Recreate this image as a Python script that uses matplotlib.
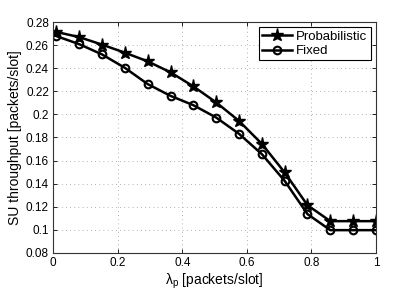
import numpy as np
import matplotlib
matplotlib.use("Agg")
import matplotlib.pyplot as plt

# --- Data ---
lam_p = np.linspace(0.01, 1.0, 15)
prob = [0.2715, 0.2670, 0.2605, 0.2535, 0.2460, 0.2365, 0.2243, 0.2104,
        0.1944, 0.1745, 0.1497, 0.1213, 0.1075, 0.1075, 0.1075]
fixed = [0.2679, 0.2609, 0.2520, 0.2404, 0.2263, 0.2161, 0.2080, 0.1973,
         0.1832, 0.1656, 0.1424, 0.1136, 0.0997, 0.0997, 0.0997]

xticks = [0, 0.2, 0.4, 0.6, 0.8, 1]
xtick_labels = ["0", "0.2", "0.4", "0.6", "0.8", "1"]
yticks = [0.08, 0.1, 0.12, 0.14, 0.16, 0.18, 0.2, 0.22, 0.24, 0.26, 0.28]
ytick_labels = ["0.08", "0.1", "0.12", "0.14", "0.16", "0.18", "0.2",
                "0.22", "0.24", "0.26", "0.28"]

plt.rcParams["font.family"] = ["Liberation Sans", "DejaVu Sans"]

fig = plt.figure(figsize=(4.15, 2.91), dpi=100)
ax = fig.add_axes([0.128, 0.131, 0.778, 0.793])

ax.plot(lam_p, prob, color="black", linewidth=1.8, marker="*",
        markersize=9.5, markerfacecolor="black", label="Probabilistic")
ax.plot(lam_p, fixed, color="black", linewidth=1.8, marker="o",
        markersize=5.5, markerfacecolor="none", markeredgewidth=1.5,
        label="Fixed")

ax.set_xlim(0, 1)
ax.set_ylim(0.08, 0.28)
ax.set_xticks(xticks)
ax.set_xticklabels(xtick_labels)
ax.set_yticks(yticks)
ax.set_yticklabels(ytick_labels)
ax.tick_params(direction="in", top=True, right=True, labelsize=8.5,
               length=3, width=0.6, pad=3)
ax.grid(True, linestyle=(0, (1, 4)), color="#999999", linewidth=0.6)

for s in ax.spines.values():
    s.set_linewidth(0.8)
    s.set_color("#333333")

ax.set_xlabel("λ$_\\mathregular{p}$ [packets/slot]", fontsize=10,
              labelpad=2)
ax.set_ylabel("SU throughput [packets/slot]", fontsize=10, labelpad=3)

leg = ax.legend(loc="upper right", fontsize=9.5, fancybox=False,
                edgecolor="black", framealpha=1, handlelength=2.3,
                borderpad=0.25, labelspacing=0.15, handletextpad=0.3,
                borderaxespad=0.4)
leg.get_frame().set_linewidth(0.8)

fig.savefig("out.png", dpi=100)
plt.close(fig)
